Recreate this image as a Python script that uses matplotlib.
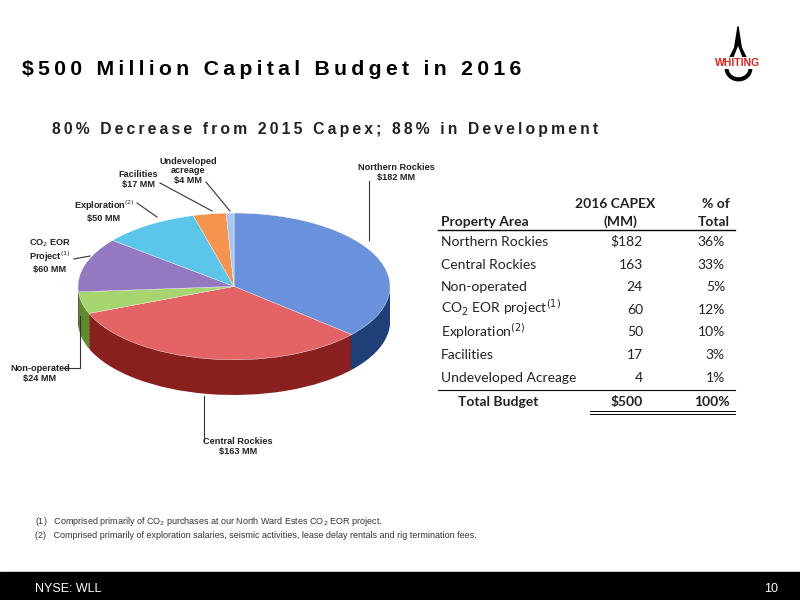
import numpy as np
import matplotlib.pyplot as plt
from matplotlib.lines import Line2D
from matplotlib.patches import Rectangle

areas = ["Northern Rockies", "Central Rockies", "Non-operated", "CO$_2$ EOR project$^{(1)}$",
         "Exploration$^{(2)}$", "Facilities", "Undeveloped Acreage"]
capex = [182, 163, 24, 60, 50, 17, 4]
pct = ["36%", "33%", "5%", "12%", "10%", "3%", "1%"]
top_colors = ["#6a92dc", "#e46466", "#a6d46e", "#9478c0", "#5cc6ea", "#f5944e", "#a8c6f0"]
side_colors = ["#1f3f78", "#8a1f1f", "#5f8a2e", "#4c3378", "#1f7fa0", "#b2581c", "#5a7fb8"]

fig = plt.figure(figsize=(8, 6), dpi=100)

def fx(px):
    return px / 800

def fy(py):
    return 1 - py / 600

def spaced(s, sp):
    return sp.join(list(s))

# title
fig.text(fx(22), fy(75), spaced("$500 Million Capital Budget in 2016", "\u2009"), fontsize=15.3,
         fontweight="bold", family="Liberation Sans", color="black", va="baseline")
fig.text(fx(52), fy(134), spaced("80% Decrease from 2015 Capex; 88% in Development", "\u2009"),
         fontsize=11.3, fontweight="bold", family="Liberation Sans", color="#222222", va="baseline")

# logo
lg = fig.add_axes([fx(716), fy(84), fx(44), 60 / 600])
lg.axis("off")
lg.set_xlim(-1, 1)
lg.set_ylim(-1, 1.4)
t = np.linspace(0, np.pi, 40)
lg.fill_between(0.6 * np.cos(t + np.pi), 0.5 * np.sin(t + np.pi) - 0.35, -0.35, color="black")
lg.fill_between(0.42 * np.cos(t + np.pi), 0.33 * np.sin(t + np.pi) - 0.35, -0.35, color="white")
lg.fill([-0.6, -0.15, 0, 0.15, 0.6, 0.42, 0, -0.42], [-0.35, 0.45, 1.3, 0.45, -0.35, -0.35, 0.6, -0.35],
        color="black")
fig.text(fx(738), fy(66), "WHITING", fontsize=7.5, fontweight="bold", color="#e0201b",
         family="Liberation Sans", ha="center", va="baseline",
         bbox=dict(facecolor="white", edgecolor="none", pad=0.5))

# 3d pie
depth = 0.48
ax = fig.add_axes([fx(78), fy(395), fx(312), 182 / 600])
for d in np.linspace(depth, 0.02, 25):
    ax.pie(capex, colors=side_colors, startangle=90, counterclock=False,
           center=(0, -d), radius=1, frame=True)
ax.pie(capex, colors=top_colors, startangle=90, counterclock=False, center=(0, 0), radius=1,
       frame=True, wedgeprops=dict(edgecolor="white", linewidth=0.3))
ax.set_xlim(-1, 1)
ax.set_ylim(-1 - depth, 1)
ax.set_aspect("auto")
ax.axis("off")

# pie labels
lab = dict(fontsize=6.6, fontweight="bold", family="Liberation Sans", color="#222222", ha="center",
           linespacing=1.1)
fig.text(fx(396), fy(180), "Northern Rockies\n$182 MM", **lab)
fig.text(fx(238), fy(454), "Central Rockies\n$163 MM", **lab)
fig.text(fx(40), fy(381), "Non-operated\n$24 MM", **lab)
fig.text(fx(50), fy(272), "CO$_2$ EOR\nProject$^{(1)}$\n$60 MM", **lab)
fig.text(fx(104), fy(221), "Exploration$^{(2)}$\n$50 MM", **lab)
fig.text(fx(138), fy(187), "Facilities\n$17 MM", **lab)
fig.text(fx(188), fy(183), "Undeveloped\nacreage\n$4 MM", **lab)
leaders = [
    [(369, 181), (369, 240)],
    [(204, 396), (204, 441)],
    [(80, 316), (80, 368), (64, 368)],
    [(90, 256), (74, 259)],
    [(137, 203), (157, 217)],
    [(160, 183), (212, 211)],
    [(206, 182), (230, 211)],
]
for pts in leaders:
    xs = [fx(p[0]) for p in pts]
    ys = [fy(p[1]) for p in pts]
    fig.add_artist(Line2D(xs, ys, color="#333333", lw=0.8))

# table
tf = dict(fontsize=10, family="Lato", color="#222222")
fig.text(fx(655), fy(208), "2016 CAPEX", ha="right", fontweight="bold", **tf)
fig.text(fx(730), fy(208), "% of", ha="right", fontweight="bold", **tf)
fig.text(fx(441), fy(226), "Property Area", ha="left", fontweight="bold", **tf)
fig.text(fx(637), fy(226), "(MM)", ha="right", fontweight="bold", **tf)
fig.text(fx(730), fy(226), "Total", ha="right", fontweight="bold", **tf)
fig.add_artist(Line2D([fx(438), fx(735)], [fy(230), fy(230)], color="black", lw=1))
for i, (a, v, p) in enumerate(zip(areas, capex, pct)):
    y = fy(246 + i * 22.6)
    fig.text(fx(441), y, a, ha="left", **tf)
    fig.text(fx(643), y, "$" + str(v) if i == 0 else str(v), ha="right", **tf)
    fig.text(fx(725), y, p, ha="right", **tf)
fig.add_artist(Line2D([fx(438), fx(735)], [fy(390), fy(390)], color="black", lw=0.8))
fig.text(fx(458), fy(406), "Total Budget", ha="left", fontweight="bold", **tf)
fig.text(fx(643), fy(406), "$" + str(sum(capex)), ha="right", fontweight="bold", **tf)
fig.text(fx(730), fy(406), "100%", ha="right", fontweight="bold", **tf)
for yy in (411, 414):
    fig.add_artist(Line2D([fx(590), fx(735)], [fy(yy), fy(yy)], color="black", lw=0.7))

# footnotes
fn = dict(fontsize=6.5, family="Liberation Sans", color="#333333")
fig.text(fx(35), fy(524), "(1)   Comprised primarily of CO$_2$ purchases at our North Ward Estes CO$_2$ EOR project.", **fn)
fig.text(fx(35), fy(538), "(2)   Comprised primarily of exploration salaries, seismic activities, lease delay rentals and rig termination fees.", **fn)

# bottom bar
fig.add_artist(Rectangle((0, 0), 1, 28 / 600, transform=fig.transFigure, color="black"))
fig.text(fx(35), fy(589), "NYSE: WLL", fontsize=9, color="white", family="Liberation Sans", va="center")
fig.text(fx(778), fy(589), "10", fontsize=9, color="white", family="Liberation Sans", va="center", ha="right")

plt.savefig("out.png", dpi=100)
